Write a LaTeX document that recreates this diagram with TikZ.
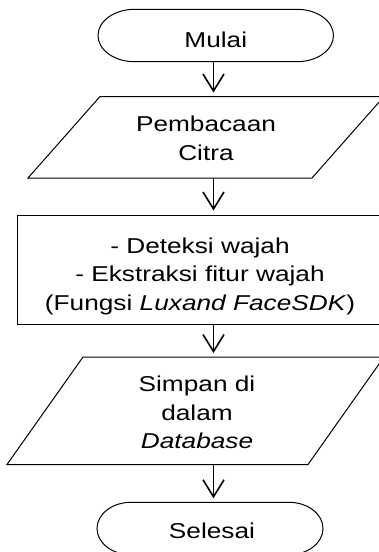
\documentclass[tikz,border=0pt]{standalone}
\usepackage{fontspec}
\setmainfont{Liberation Sans}[FakeStretch=1.22]
\usetikzlibrary{arrows.meta}
\begin{document}
\begin{tikzpicture}[x=1pt,y=-1pt,
  shapeline/.style={draw=black, line width=1pt},
  flow/.style={draw=black, line width=1.6pt, shorten >=4pt,
    -{Straight Barb[length=17pt,width=21pt,line width=1.6pt]}},
  lbl/.style={anchor=base, inner sep=0pt, font=\fontsize{21.5}{28.5}\selectfont}]
\useasboundingbox (0,0) rectangle (379,552);
\clip (0,0) rectangle (379,552);
% terminator: Mulai
\draw[shapeline] (134.5,9.3) -- (297,9.3)
  arc[start angle=-90,end angle=90,x radius=36.5,y radius=26.2]
  -- (134.5,61.7)
  arc[start angle=90,end angle=270,x radius=36.5,y radius=26.2] -- cycle;
% input: Pembacaan Citra
\draw[shapeline] (100,96.5) -- (384,96.5) -- (312,178) -- (28,178) -- cycle;
% process
\draw[shapeline] (17,215) rectangle (381,324);
% output: Simpan
\draw[shapeline] (83,357) -- (384,357) -- (308,464.5) -- (7,464.5) -- cycle;
% terminator: Selesai
\draw[shapeline] (131,502.3) -- (289,502.3)
  arc[start angle=-90,end angle=90,x radius=34,y radius=26.2]
  -- (131,554.7)
  arc[start angle=90,end angle=270,x radius=34,y radius=26.2] -- cycle;

% connector ends
\coordinate (mulaiS) at (213.5,61.7);
\coordinate (bacaN) at (213.5,96.5);
\coordinate (bacaS) at (213.5,178);
\coordinate (procN) at (213.5,215);
\coordinate (procS) at (213.5,324);
\coordinate (simpanN) at (213.5,357);
\coordinate (simpanS) at (213.5,464.5);
\coordinate (selesaiN) at (213.5,502.3);

% texts
\node[lbl] (tmulai) at (215.8,47.3) {Mulai};
\node[lbl] (tbaca) at (206,131.7) {\begin{tabular}[t]{@{}c@{}}Pembacaan\\Citra\end{tabular}};
\node[lbl] (tproc) at (200,253.3) {\begin{tabular}[t]{@{}c@{}}- Deteksi wajah\\- Ekstraksi fitur wajah\\(Fungsi \textit{Luxand FaceSDK})\end{tabular}};
\node[lbl] (tsimpan) at (197,391.7) {\begin{tabular}[t]{@{}c@{}}Simpan di\\dalam\\\textit{Database}\end{tabular}};
\node[lbl] (tselesai) at (212,538.3) {Selesai};

% connectors
\draw[flow] (mulaiS) -- (bacaN);
\draw[flow, shorten >=4.5pt] (bacaS) -- (procN);
\draw[flow] (procS) -- (simpanN);
\draw[flow] (simpanS) -- (selesaiN);
\end{tikzpicture}
\end{document}
